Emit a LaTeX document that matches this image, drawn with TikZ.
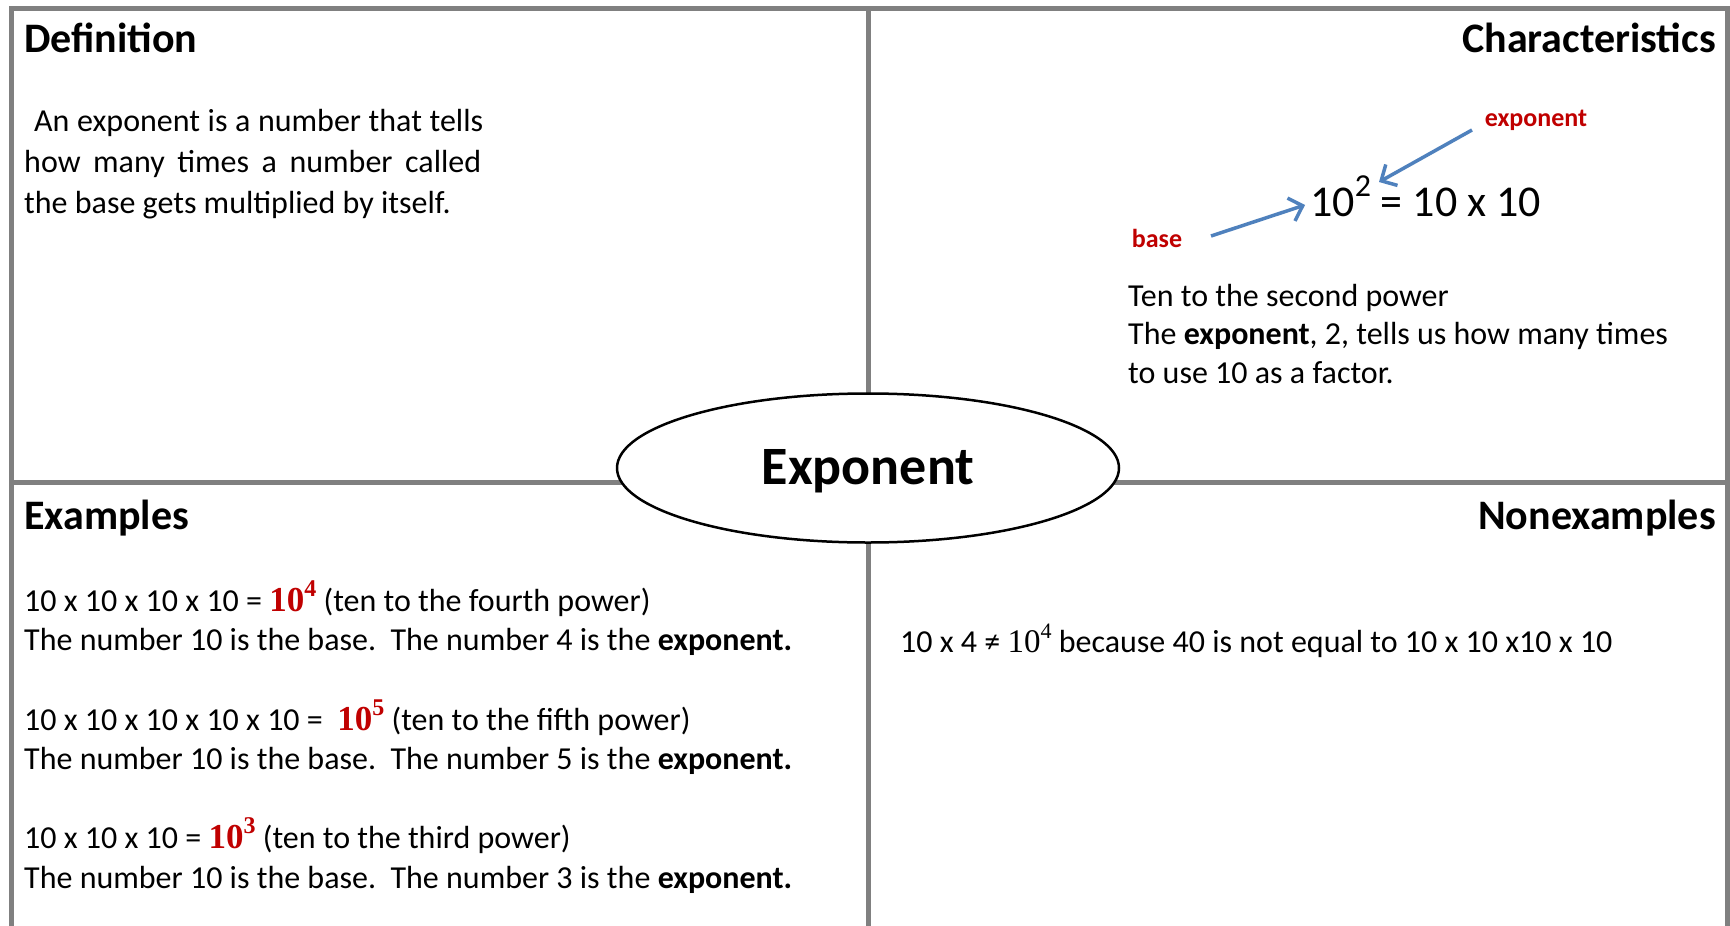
\documentclass[tikz,border=0pt]{standalone}
\usepackage{fontspec}
\setmainfont{Carlito}
\newfontfamily\seriffont{Liberation Serif}
\usetikzlibrary{arrows.meta,shapes.geometric}
\definecolor{gridgray}{RGB}{128,128,128}
\definecolor{exred}{RGB}{192,0,0}
\definecolor{arrowblue}{RGB}{79,129,189}
\newcommand{\redpow}[2]{{\color{exred}\seriffont\bfseries\fontsize{35}{38}\selectfont #1\raisebox{0.42em}{\fontsize{24}{26}\selectfont #2}}}
\newcommand{\serpow}[2]{{\seriffont\fontsize{33}{38}\selectfont #1\raisebox{0.42em}{\fontsize{22}{26}\selectfont #2}}}
\begin{document}
\begin{tikzpicture}[x=1pt,y=-1pt,
  body/.style={anchor=base west, inner sep=0pt, font=\fontsize{32}{38}\selectfont},
  headl/.style={anchor=base west, inner sep=0pt, font=\fontsize{42}{50}\selectfont\bfseries},
  headr/.style={anchor=base east, inner sep=0pt, font=\fontsize{42}{50}\selectfont\bfseries},
  lab/.style={inner sep=0pt, text=exred, font=\fontsize{26}{30}\selectfont\bfseries},
  pointer/.style={draw=arrowblue, line width=3.5pt, -{Straight Barb[length=12pt,width=24pt]}},
  grid/.style={draw=gridgray, line width=5pt}
]
\useasboundingbox (0,0) rectangle (1730,926);
\fill[white] (0,0) rectangle (1730,926);
% frame and quadrant lines
\draw[grid] (11,926) -- (11,8) -- (1727,8) -- (1727,926);
\draw[grid] (868,8) -- (868,926);
\draw[grid] (11,482) -- (1727,482);
% centre ellipse
\node[ellipse, draw=black, line width=2.5pt, fill=white, minimum width=502pt, minimum height=149pt, inner sep=0pt] (centre) at (868,468) {};
\node[inner sep=0pt, font=\fontsize{54}{60}\selectfont\bfseries] (title) at (868,471) {Exponent};
% headings
\node[headl] (hdef) at (24,52) {Definition};
\node[headr] (hchar) at (1716,52) {Characteristics};
\node[headl] (hex) at (24,529) {Examples};
\node[headr] (hnon) at (1716,529) {Nonexamples};
% definition
\node[body] (d1) at (34,131) {\makebox[449pt][s]{An exponent is a number that tells}};
\node[body] (d2) at (24,172) {\makebox[457pt][s]{how many times a number called}};
\node[body] (d3) at (24,213) {the base gets multiplied by itself.};
% characteristics
\node[lab] (explab) at (1536,120) {exponent};
\node[lab] (baselab) at (1157,238) {base};
\node[anchor=base west, inner sep=0pt, font=\fontsize{44}{50}\selectfont] (eqn) at (1310,216) {10\raisebox{0.45em}{\fontsize{32}{34}\selectfont 2} = 10 x 10};
\coordinate (a1s) at (1472,130);
\coordinate (a1e) at (1379,182);
\coordinate (a2s) at (1211,236);
\coordinate (a2e) at (1305,205);
\draw[pointer] (a1s) -- (a1e);
\draw[pointer] (a2s) -- (a2e);
\node[body] (c1) at (1128,306) {Ten to the second power};
\node[body] (c2) at (1128,344) {The \textbf{exponent}, 2, tells us how many times};
\node[body] (c3) at (1128,383) {to use 10 as a factor.};
% examples
\node[body] (e1) at (24,611) {10 x 10 x 10 x 10 = \redpow{10}{4} (ten to the fourth power)};
\node[body] (e2) at (24,650) {The number 10 is the base.\ \ The number 4 is the \textbf{exponent.}};
\node[body] (e3) at (24,730) {10 x 10 x 10 x 10 x 10 =\ \ \redpow{10}{5} (ten to the fifth power)};
\node[body] (e4) at (24,769) {The number 10 is the base.\ \ The number 5 is the \textbf{exponent.}};
\node[body] (e5) at (24,848) {10 x 10 x 10 = \redpow{10}{3} (ten to the third power)};
\node[body] (e6) at (24,888) {The number 10 is the base.\ \ The number 3 is the \textbf{exponent.}};
% nonexamples
\node[body] (n1) at (900,652) {10 x 4 ≠ \serpow{10}{4} because 40 is not equal to 10 x 10 x10 x 10};
\end{tikzpicture}
\end{document}
